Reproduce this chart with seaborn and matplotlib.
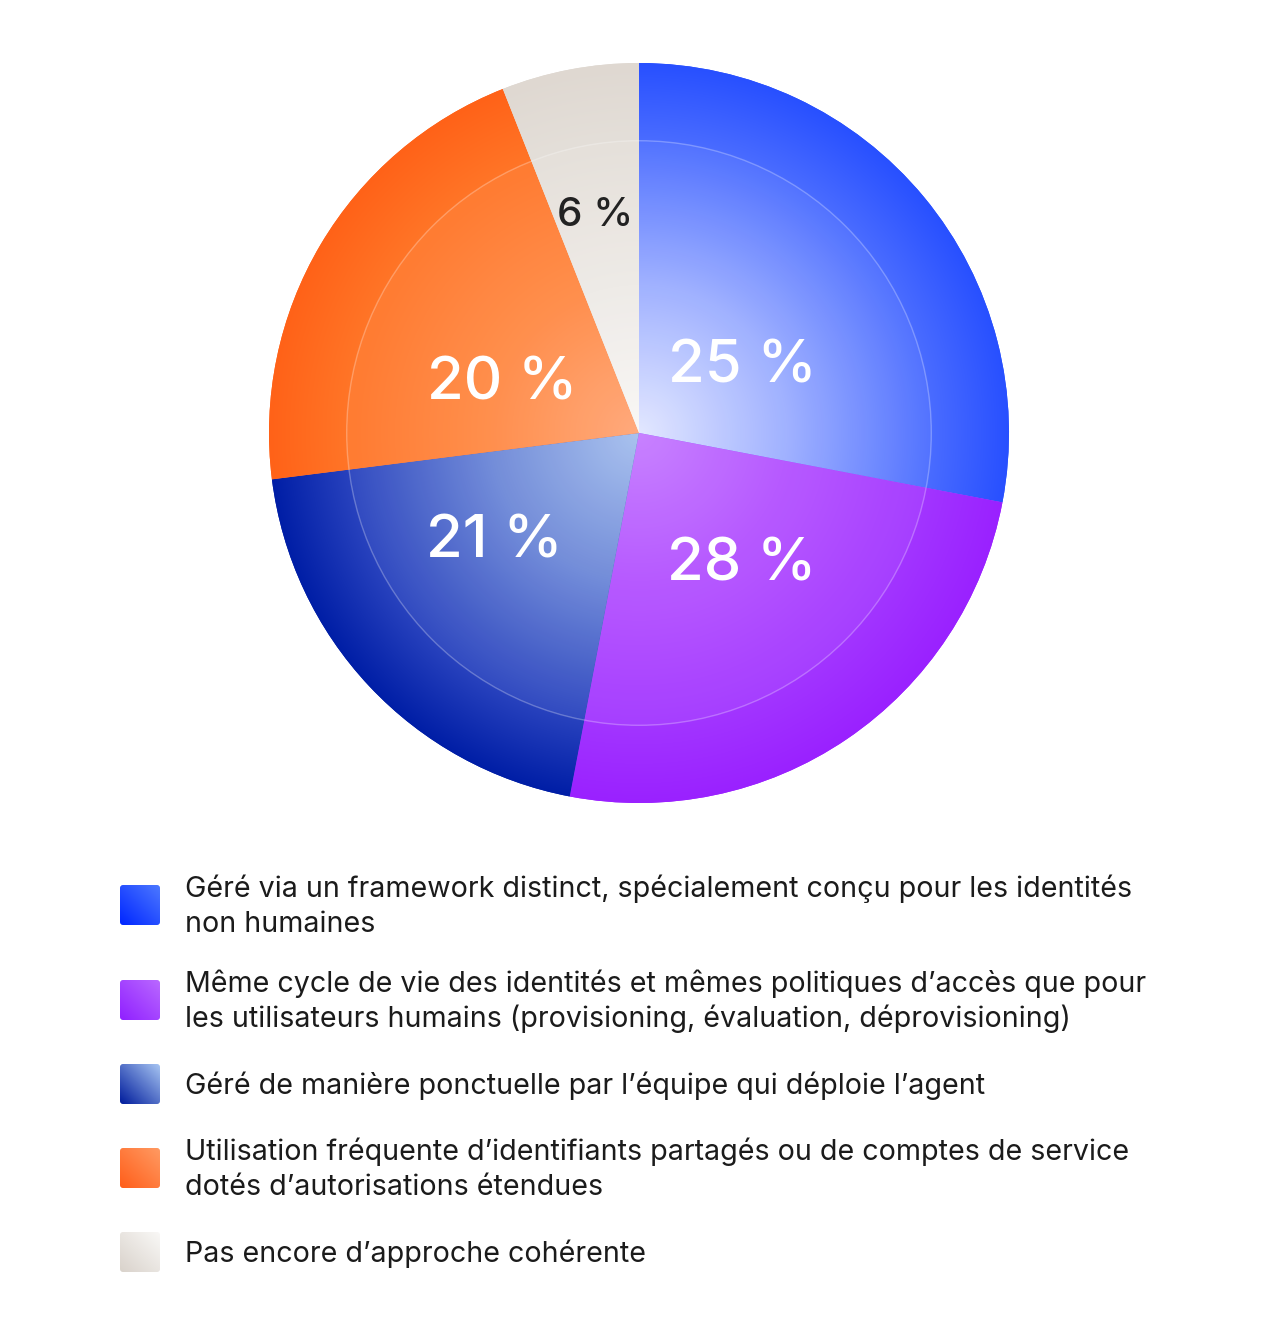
import numpy as np
import matplotlib
matplotlib.use("Agg")
import matplotlib.pyplot as plt
from matplotlib.colors import to_rgb
from matplotlib.patches import Circle, FancyBboxPatch
import seaborn as sns

# ---------------- data ----------------
categories = [
    "Géré via un framework distinct, spécialement conçu pour les identités\nnon humaines",
    "Même cycle de vie des identités et mêmes politiques d’accès que pour\nles utilisateurs humains (provisioning, évaluation, déprovisioning)",
    "Géré de manière ponctuelle par l’équipe qui déploie l’agent",
    "Utilisation fréquente d’identifiants partagés ou de comptes de service\ndotés d’autorisations étendues",
    "Pas encore d’approche cohérente",
]
# slice sizes as drawn in the picture
slice_values = [28, 25, 20, 21, 6]
# printed labels
slice_labels = ["25 %", "28 %", "21 %", "20 %", "6 %"]

# ---------------- style ----------------
sns.set_theme(style="white")
plt.rcParams["font.family"] = ["Inter", "DejaVu Sans"]

# radial colour stops (r = 0, 0.4, 0.79, 1.0)
grad_stops = [0.0, 0.4, 0.79, 1.0]
slice_grads = [
    ["#E2E7FF", "#9CAEFF", "#4A6CFF", "#2850FF"],
    ["#C57CFF", "#B452FF", "#A235FF", "#9A21FF"],
    ["#A6C0EE", "#6D88D8", "#2842BE", "#001EA6"],
    ["#FFA676", "#FF8A45", "#FF7527", "#FF6218"],
    ["#F9F8F6", "#EEEAE6", "#E4DFD9", "#DFD8D1"],
]
legend_grads = [
    ["#0026FF", "#4C78FF"],
    ["#9020FF", "#B968FF"],
    ["#001C9C", "#A6C4F2"],
    ["#FF5E1A", "#FF9A62"],
    ["#D9D2CB", "#F9F8F6"],
]
label_colors = ["white", "white", "white", "white", "#222222"]
label_sizes = [43, 43, 43, 43, 29]
# label anchor: (radius, angle in degrees) in pie units
label_polar = [(0.34, 35.0), (0.44, -50.8), (0.48, -144.4), (0.40, 158.0), (0.61, 101.3)]

W, H = 1280, 1338
fig = plt.figure(figsize=(W / 100, H / 100), dpi=100)
fig.patch.set_facecolor("white")

cx, cy, R = 639, 433, 370
ax = fig.add_axes([(cx - R) / W, (H - cy - R) / H, 2 * R / W, 2 * R / H])

wedges, _ = ax.pie(slice_values, startangle=90, counterclock=False, radius=1.0,
                   colors=[g[-1] for g in slice_grads],
                   wedgeprops=dict(linewidth=0, antialiased=True))
ax.set_xlim(-1, 1)
ax.set_ylim(-1, 1)
ax.set_aspect("auto")
ax.axis("off")

n = 900
xs = np.linspace(-1, 1, n)
X, Y = np.meshgrid(xs, xs)
Rr = np.sqrt(X ** 2 + Y ** 2)
for w, g in zip(wedges, slice_grads):
    cols = np.array([to_rgb(c) for c in g])
    img = np.stack([np.interp(Rr, grad_stops, cols[:, k]) for k in range(3)], axis=-1)
    im = ax.imshow(img, extent=[-1, 1, -1, 1], origin="lower", zorder=2,
                   interpolation="bilinear")
    im.set_clip_path(w)

inner = Circle((0, 0), 0.79, facecolor=(1, 1, 1, 0.05), edgecolor=(1, 1, 1, 0.28),
               linewidth=1.0, zorder=3)
ax.add_patch(inner)

for (rad, ang), lab, col, fs in zip(label_polar, slice_labels, label_colors, label_sizes):
    x = rad * np.cos(np.deg2rad(ang))
    y = rad * np.sin(np.deg2rad(ang))
    ax.text(x, y, lab, ha="center", va="center_baseline", color=col,
            fontsize=fs, fontweight="medium", zorder=5)

# ---------------- legend ----------------
lax = fig.add_axes([0, 0, 1, 1], zorder=-1)
lax.set_xlim(0, W)
lax.set_ylim(H, 0)
lax.axis("off")

sq_x, sq_size, text_x = 120, 40, 185
item_centers = [905, 1000, 1084, 1168, 1252]
line_gap, cap_h = 35, 19

u = np.linspace(0, 1, 64)
U, V = np.meshgrid(u, u)
T = (U + (1 - V)) / 2
for cat, g, yc in zip(categories, legend_grads, item_centers):
    c0, c1 = np.array(to_rgb(g[0])), np.array(to_rgb(g[1]))
    img = c0[None, None, :] + (c1 - c0)[None, None, :] * T[..., None]
    top = yc - sq_size / 2
    box = FancyBboxPatch((sq_x, top), sq_size, sq_size,
                         boxstyle="round,pad=0,rounding_size=3",
                         facecolor="none", edgecolor="none", zorder=1)
    lax.add_patch(box)
    im = lax.imshow(img, extent=[sq_x, sq_x + sq_size, top + sq_size, top],
                    origin="upper", interpolation="bilinear", zorder=2)
    im.set_clip_path(box)
    lines = cat.split("\n")
    b1 = yc + cap_h / 2 - line_gap / 2 * (len(lines) - 1)
    for i, ln in enumerate(lines):
        lax.text(text_x, b1 + i * line_gap, ln, ha="left", va="baseline",
                 fontsize=20.6, color="#1b1b1b", zorder=3)

lax.set_xlim(0, W)
lax.set_ylim(H, 0)
lax.set_aspect("auto")

fig.savefig("out.png", dpi=100, facecolor="white")
